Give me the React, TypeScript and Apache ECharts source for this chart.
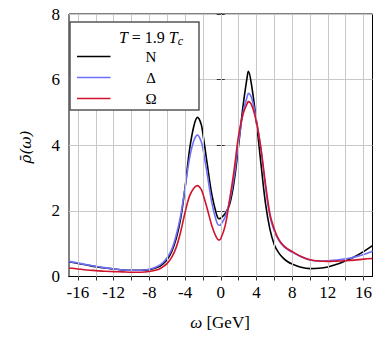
import React, { useEffect, useRef } from "react";
import * as echarts from "echarts";

const omega = [-17,-16,-15,-14,-13,-12,-11,-10,-9,-8,-7,-6.5,-6,-5.5,-5,-4.5,-4,-3.5,-3,-2.6,-2.2,-2,-1.5,-1,-0.5,-0.2,0,0.5,1,1.5,2,2.5,3,3.1,3.5,4,4.5,5,5.5,6,6.5,7,7.5,8,9,10,11,12,13,14,15,16,17];
const rhoN = [0.45,0.40,0.35,0.30,0.26,0.23,0.20,0.19,0.19,0.21,0.29,0.38,0.52,0.76,1.15,1.75,2.7,3.85,4.6,4.85,4.65,4.35,3.4,2.5,1.92,1.76,1.78,1.92,2.2,2.9,4.0,5.2,6.15,6.25,5.75,4.7,3.45,2.25,1.45,0.97,0.72,0.56,0.45,0.38,0.28,0.24,0.25,0.29,0.37,0.48,0.6,0.76,0.94];
const rhoDelta = [0.46,0.41,0.36,0.31,0.27,0.23,0.2,0.19,0.19,0.22,0.32,0.42,0.58,0.82,1.25,1.85,2.7,3.6,4.15,4.31,4.12,3.9,3.1,2.25,1.7,1.56,1.58,1.82,2.3,3.05,4.1,5.0,5.52,5.58,5.4,4.75,3.9,2.75,1.85,1.38,1.1,0.93,0.82,0.74,0.6,0.5,0.47,0.48,0.5,0.54,0.59,0.67,0.77];
const rhoOmega = [0.26,0.23,0.2,0.18,0.16,0.15,0.14,0.13,0.13,0.15,0.21,0.29,0.4,0.58,0.88,1.35,1.95,2.45,2.7,2.77,2.66,2.52,2.05,1.55,1.2,1.11,1.15,1.55,2.35,3.25,4.3,4.95,5.3,5.33,5.2,4.7,3.9,2.85,1.92,1.44,1.13,0.95,0.84,0.76,0.61,0.51,0.47,0.46,0.47,0.48,0.5,0.53,0.55];

const xLabelTicks = [-16,-12,-8,-4,0,4,8,12,16];
const xGridTicks = [-16,-14,-12,-10,-8,-6,-4,-2,0,2,4,6,8,10,12,14,16];
const legendNames = ["N", "Δ", "Ω"];
const colors = ["#000000", "#6f6fff", "#d0142c"];

const FONT = "Liberation Serif";
const FONT2 = "DejaVu Serif";

export default function App() {
  const ref = useRef<HTMLDivElement>(null);
  useEffect(() => {
    const chart = echarts.init(ref.current!, null, { renderer: "svg" });
    const seriesData = [rhoN, rhoDelta, rhoOmega];
    const series: any[] = [
      {
        type: "line",
        data: [],
        z: 1,
        markLine: {
          silent: true,
          symbol: ["none", "none"],
          label: { show: false },
          lineStyle: { color: "#c8c8c8", width: 1, type: "solid" },
          data: xGridTicks.map((v) => ({ xAxis: v })),
        },
      },
    ];
    seriesData.forEach((arr, i) => {
      series.push({
        type: "line",
        name: legendNames[i],
        data: omega.map((w, k) => [w, arr[k]]),
        smooth: 0.35,
        showSymbol: false,
        lineStyle: { color: colors[i], width: 1.6 },
        z: 3 + i,
      });
    });
    const left = 69, top = 14, right = 372.5, bottom = 276.5;
    const lx = 70, ly = 22, lw = 129, lh = 88;
    const rows = [56.5, 77.5, 98.5];
    const graphic: any[] = [
      { type: "rect", shape: { x: lx, y: ly, width: lw, height: lh }, style: { fill: "#fff", stroke: "#555", lineWidth: 1.5 }, z: 10 },
      {
        type: "text", x: 151, y: 37, z: 11,
        style: {
          text: "{i|T} = 1.9 {i|T}{s|c}",
          align: "center", verticalAlign: "middle",
          rich: {
            i: { fontFamily: FONT, fontStyle: "italic", fontSize: 16 },
            s: { fontFamily: FONT, fontStyle: "italic", fontSize: 12, padding: [7, 0, 0, 0] },
          },
          fontFamily: FONT, fontSize: 16, fill: "#000",
        },
      },
    ];
    rows.forEach((y, i) => {
      graphic.push({ type: "line", shape: { x1: 77, y1: y, x2: 110.5, y2: y }, style: { stroke: colors[i], lineWidth: 1.6 }, z: 11 });
      graphic.push({ type: "text", x: 151, y: y, z: 11, style: { text: legendNames[i], align: "center", verticalAlign: "middle", fontFamily: FONT, fontSize: 15, fill: "#000" } });
    });
    graphic.push({
      type: "text", x: 220, y: 322, z: 11,
      style: {
        text: "{i|ω} [GeV]", align: "center", verticalAlign: "middle",
        fontFamily: FONT, fontSize: 17, fill: "#000",
        rich: { i: { fontFamily: FONT, fontStyle: "italic", fontSize: 17 } },
      },
    });
    graphic.push({
      type: "text", x: 26, y: 147, rotation: Math.PI / 2, z: 11,
      style: { text: "ρ̄(ω)", align: "center", verticalAlign: "middle", fontFamily: FONT2, fontStyle: "italic", fontSize: 15, fill: "#000" },
    });

    const labelStyle = { fontFamily: FONT, fontSize: 17, color: "#000" };
    chart.setOption({
      animation: false,
      textStyle: { fontFamily: FONT },
      grid: { left, top, right: 382 - right, bottom: 339 - bottom, show: true, borderColor: "#000", borderWidth: 1, backgroundColor: "transparent" },
      xAxis: [
        {
          type: "value", min: -17, max: 17,
          axisLine: { show: true, lineStyle: { color: "#000" } },
          splitLine: { show: false },
          axisTick: { show: true, inside: true, length: 4, customValues: xGridTicks, lineStyle: { color: "#333" } },
          axisLabel: { customValues: xLabelTicks, margin: 7, ...labelStyle, formatter: (v: number) => String(v) },
        },
        {
          type: "value", min: -17, max: 17, position: "top",
          axisLine: { show: true, lineStyle: { color: "#000" } },
          splitLine: { show: false },
          axisTick: { show: true, inside: true, length: 4, customValues: xGridTicks, lineStyle: { color: "#333" } },
          axisLabel: { show: false },
        },
      ],
      yAxis: [
        {
          type: "value", min: 0, max: 8, interval: 2,
          axisLine: { show: true, lineStyle: { color: "#000" } },
          splitLine: { show: true, lineStyle: { color: "#c8c8c8", width: 1 } },
          axisTick: { show: true, inside: true, length: 4, lineStyle: { color: "#333" } },
          axisLabel: { margin: 9, ...labelStyle },
        },
        {
          type: "value", min: 0, max: 8, interval: 2, position: "right",
          axisLine: { show: true, lineStyle: { color: "#000" } },
          splitLine: { show: false },
          axisTick: { show: true, inside: true, length: 4, lineStyle: { color: "#333" } },
          axisLabel: { show: false },
        },
      ],
      series,
      graphic,
    });
    return () => chart.dispose();
  }, []);
  return <div ref={ref} style={{ position: "fixed", left: 0, top: 0, width: 382, height: 339, background: "#fff" }} />;
}
